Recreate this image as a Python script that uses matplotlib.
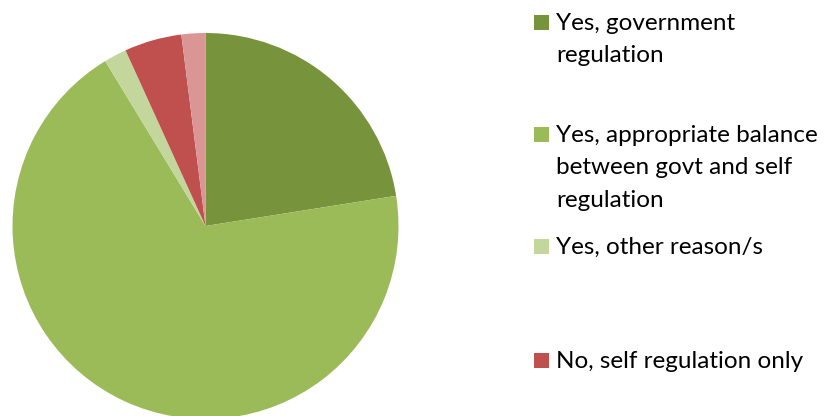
import matplotlib
matplotlib.use("Agg")
import matplotlib.pyplot as plt
from matplotlib.patches import Rectangle

# Survey responses (share of respondents, %)
labels = [
    "Yes, government\nregulation",
    "Yes, appropriate balance\nbetween govt and self\nregulation",
    "Yes, other reason/s",
    "No, self regulation only",
    "No, other reason/s",
]
shares = [22.5, 68.8, 1.9, 4.8, 2.0]
colors = ["#77933C", "#9BBB59", "#C3D69B", "#C0504D", "#D99694"]

W, H = 826, 416
fig = plt.figure(figsize=(W / 100, H / 100), dpi=100)
fig.patch.set_facecolor("white")

# Pie axes: centre (205.5, 226) px, radius 193 px
cx, cy, r = 205.5, 226, 193
ax = fig.add_axes([(cx - r) / W, (H - cy - r) / H, 2 * r / W, 2 * r / H])
ax.pie(shares, colors=colors, startangle=90, counterclock=False, radius=1,
       wedgeprops=dict(linewidth=0, edgecolor="none"))
ax.set_xlim(-1, 1)
ax.set_ylim(-1, 1)
ax.set_aspect("equal")
ax.axis("off")

# Legend drawn as swatches + text lines; entries that fall below the
# bottom edge of the canvas are not drawn
baselines = [30, 141.7, 254, 367.7, 480]
line_step = 32.5
sq = 15
font = dict(family=["Lato", "DejaVu Sans"], size=17.5, color="#000000")
for lab, col, yb in zip(labels, colors, baselines):
    if yb > H:
        continue
    fig.patches.append(Rectangle((534 / W, (H - yb) / H), sq / W, sq / H,
                                 transform=fig.transFigure, facecolor=col,
                                 edgecolor="none"))
    for i, line in enumerate(lab.split("\n")):
        fig.text(556 / W, (H - yb - i * line_step) / H, line,
                 ha="left", va="baseline", **font)

fig.savefig("out.png", dpi=100, facecolor="white")
